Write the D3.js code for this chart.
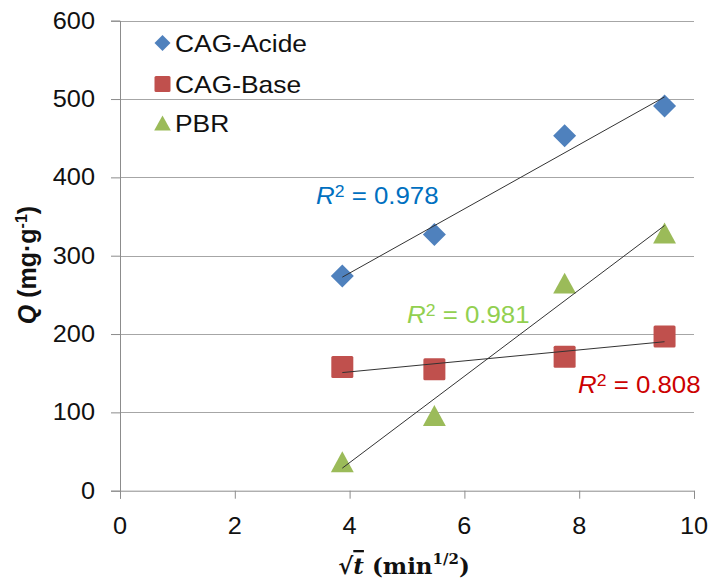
<!DOCTYPE html>
<html><head><meta charset="utf-8">
<script src="https://cdn.jsdelivr.net/npm/d3@7"></script>
<style>body{margin:0;background:#fff}svg{display:block}</style>
</head><body>
<svg id="c" width="710" height="579"></svg>
<script>
const seriesNames = ["CAG-Acide", "CAG-Base", "PBR"];
const sqrtT = [3.873, 5.477, 7.746, 9.487];
const acide = [274, 327, 453, 491];
const base = [158, 155, 171, 197];
const pbr = [37, 96, 265, 329];
const r2Labels = ["0.978", "0.808", "0.981"];
const xTicks = [0, 2, 4, 6, 8, 10];
const yTicks = [0, 100, 200, 300, 400, 500, 600];
const colors = ["#4F81BD", "#C0504D", "#9BBB59"];
const r2Colors = ["#0070C0", "#CC0000", "#92D050"];

const svg = d3.select("#c");
const x = d3.scaleLinear().domain([0, 10]).range([120, 694]);
const y = d3.scaleLinear().domain([0, 600]).range([490.7, 20.7]);
const SX = 1.1;
const FONT = "Liberation Sans, Arial, sans-serif";

// gridlines
svg.append("g").selectAll("line").data(yTicks.filter(d => d > 0)).join("line")
  .attr("x1", x(0)).attr("x2", x(10))
  .attr("y1", d => Math.round(y(d)) + 0.5).attr("y2", d => Math.round(y(d)) + 0.5)
  .attr("stroke", "#A6A6A6").attr("stroke-width", 1);

// axes
const gy = svg.append("g").attr("transform", `translate(${x(0)},0)`)
  .call(d3.axisLeft(y).tickValues(yTicks).tickSize(9).tickFormat(""));
const gx = svg.append("g").attr("transform", `translate(0,${y(0)})`)
  .call(d3.axisBottom(x).tickValues(xTicks).tickSize(8).tickFormat(""));
[gx, gy].forEach(g => { g.selectAll("path,line").attr("stroke", "#8C8C8C"); });

function stext(px, py, anchor, size) {
  return svg.append("text")
    .attr("transform", `translate(${px},${py}) scale(${SX},1)`)
    .attr("text-anchor", anchor).attr("font-family", FONT)
    .attr("font-size", size).attr("fill", "#111");
}
yTicks.forEach(v => stext(95, y(v) + 8, "end", 23).text(v));
xTicks.forEach(v => stext(x(v), 534, "middle", 23).text(v));

// markers
const data = [acide, base, pbr];
function marker(g, type, cx, cy, s, col) {
  if (type === 0) {
    const h = s / 2;
    g.append("path").attr("d", `M${cx},${cy - h}L${cx + h},${cy}L${cx},${cy + h}L${cx - h},${cy}Z`).attr("fill", col);
  } else if (type === 1) {
    g.append("rect").attr("x", cx - s / 2).attr("y", cy - s / 2).attr("width", s).attr("height", s)
      .attr("rx", 1.5).attr("fill", col);
  } else {
    const w = s * 1.04, h = s * 0.95;
    g.append("path").attr("d", `M${cx},${cy - h / 2}L${cx + w / 2},${cy + h / 2}L${cx - w / 2},${cy + h / 2}Z`).attr("fill", col);
  }
}
const mg = svg.append("g");
data.forEach((vals, i) => {
  vals.forEach((v, j) => marker(mg, i, x(sqrtT[j]), y(v), i === 0 ? 23 : 22, colors[i]));
});

// trendlines (least squares)
function fit(xs, ys) {
  const mx = d3.mean(xs), my = d3.mean(ys);
  let sxy = 0, sxx = 0;
  xs.forEach((xv, k) => { sxy += (xv - mx) * (ys[k] - my); sxx += (xv - mx) ** 2; });
  const b = sxy / sxx;
  return xv => my + b * (xv - mx);
}
data.forEach(vals => {
  const f = fit(sqrtT, vals);
  const x0 = d3.min(sqrtT), x1 = d3.max(sqrtT);
  svg.append("line").attr("x1", x(x0)).attr("y1", y(f(x0))).attr("x2", x(x1)).attr("y2", y(f(x1)))
    .attr("stroke", "#333").attr("stroke-width", 1);
});

// R² labels
const r2Pos = [[316, 203.5], [578, 392.5], [407, 323]];
r2Labels.forEach((lab, i) => {
  const t = stext(r2Pos[i][0], r2Pos[i][1], "start", 23.5).attr("fill", r2Colors[i]);
  t.append("tspan").attr("font-style", "italic").text("R");
  t.append("tspan").attr("font-size", 16).attr("dy", -7).text("2");
  t.append("tspan").attr("dy", 7).text(" = " + lab);
});

// legend
const legY = [43, 84, 123];
seriesNames.forEach((n, i) => {
  marker(svg, i, 162.5, legY[i], 16, colors[i]);
  stext(175, legY[i] + 9, "start", 24).text(n);
});

// axis titles
const yt = svg.append("text").attr("transform", "translate(36,265) rotate(-90)")
  .attr("text-anchor", "middle").attr("font-family", FONT).attr("font-weight", "bold")
  .attr("font-size", 25).attr("fill", "#111");
yt.append("tspan").attr("font-style", "italic").text("Q");
yt.append("tspan").text(" (mg·g");
yt.append("tspan").attr("font-size", 16).attr("dy", -9).text("-1");
yt.append("tspan").attr("dy", 9).text(")");

const xt = svg.append("text").attr("x", 404).attr("y", 574)
  .attr("text-anchor", "middle").attr("font-family", "DejaVu Serif, Liberation Serif, serif")
  .attr("font-weight", "bold").attr("font-size", 23).attr("fill", "#111");
xt.append("tspan").text("√");
xt.append("tspan").attr("font-style", "italic").attr("text-decoration", "overline").text("t");
xt.append("tspan").text(" (min");
xt.append("tspan").attr("font-size", 15).attr("dy", -10).text("1/2");
xt.append("tspan").attr("dy", 10).text(")");
</script>
</body></html>
